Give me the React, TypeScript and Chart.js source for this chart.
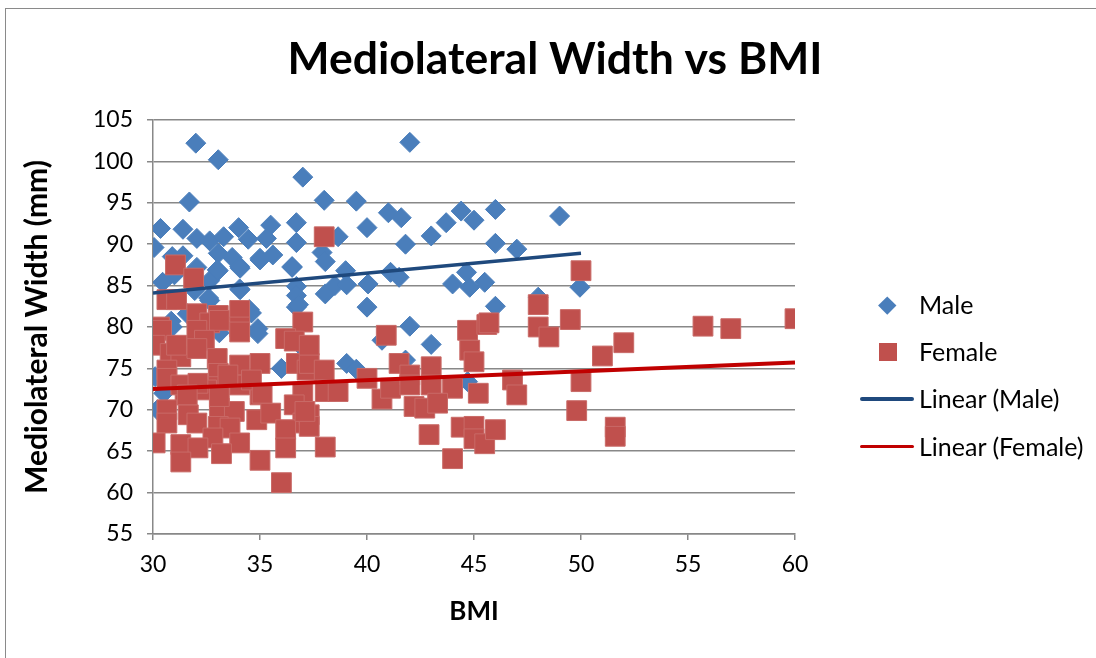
import React, { useEffect, useRef } from "react";
import { Chart, registerables } from "chart.js";

Chart.register(...registerables);

const maleBMI = [
  32.0, 33.05, 37.0, 31.7, 38.0, 39.5, 30.35, 31.4, 34.0, 35.5, 36.7, 30.05, 32.05, 32.65, 33.3, 34.45,
  35.3, 36.7, 30.9, 31.4, 33.05, 33.7, 35.0, 35.6, 34.05, 32.05, 33.05, 36.5, 37.9, 38.05, 30.45, 31.0,
  32.65, 34.05, 31.95, 36.7, 36.7, 32.65, 30.85, 34.5, 36.7, 31.6, 34.9, 41.0, 41.6, 44.4, 45.0, 43.7,
  40.0, 38.65, 43.0, 41.8, 39.0, 41.1, 41.5, 38.05, 38.5, 39.05, 40.05, 44.0, 44.8, 44.65, 45.5, 40.0,
  42.0, 43.0, 40.7, 39.05, 39.5, 44.7, 46.0, 49.0, 46.0, 47.0, 49.95, 46.0, 48.0, 42.0, 34.9, 36.0,
  30.9, 30.5, 30.2, 36.8, 41.8, 33.0, 34.07, 35.0, 36.5, 36.8, 32.6, 34.07, 34.6, 33.1, 30.1,
];
const maleWidth = [
  102.2, 100.2, 98.1, 95.1, 95.3, 95.2, 91.9, 91.8, 92.0, 92.3, 92.6, 89.6, 90.7, 90.4, 90.9, 90.6,
  90.7, 90.2, 88.5, 88.6, 88.9, 88.4, 88.3, 88.7, 87.3, 87.2, 86.8, 87.2, 89.0, 87.9, 85.4, 86.3,
  85.6, 84.6, 84.4, 84.9, 83.8, 83.2, 80.7, 82.1, 82.4, 81.6, 79.8, 93.8, 93.2, 94.0, 92.9, 92.6,
  92.0, 90.9, 91.0, 90.0, 86.8, 86.6, 86.0, 84.0, 85.0, 85.1, 85.2, 85.2, 84.8, 86.6, 85.4, 82.4,
  80.1, 77.9, 78.4, 75.6, 74.9, 73.4, 94.2, 93.4, 90.1, 89.4, 84.8, 82.5, 83.6, 102.3, 79.2, 75.0,
  80.0, 72.0, 70.0, 78.0, 76.0, 86.9, 87.1, 88.1, 87.3, 82.7, 83.5, 84.5, 81.7, 79.3, 74.0,
];

const femaleBMI = [
  31.05, 31.9, 30.65, 31.1, 32.05, 33.05, 34.05, 37.0, 30.3, 32.65, 34.05, 38.0, 30.4, 30.1, 32.05, 33.1,
  34.05, 36.2, 36.6, 32.4, 30.8, 31.3, 32.05, 33.0, 34.05, 35.0, 30.65, 30.65, 33.05, 36.7, 37.2, 34.05,
  33.05, 32.5, 31.5, 35.0, 37.0, 30.65, 31.65, 33.1, 33.8, 34.85, 35.5, 36.6, 37.0, 30.65, 32.05, 33.05,
  33.6, 32.8, 30.1, 31.3, 32.1, 34.05, 36.2, 36.2, 31.3, 33.2, 35.0, 36.0, 40.9, 44.7, 44.8, 45.0,
  45.6, 37.3, 38.0, 38.05, 38.65, 40.0, 40.7, 41.1, 41.5, 42.0, 42.0, 43.0, 43.0, 44.0, 45.2, 42.2,
  42.7, 43.3, 37.3, 37.3, 38.05, 42.9, 44.4, 45.0, 45.0, 45.5, 44.0, 50.0, 48.0, 49.5, 45.7, 48.0,
  48.5, 51.0, 52.0, 46.8, 47.0, 50.0, 49.8, 46.0, 51.6, 51.6, 55.7, 57.0, 60.0, 31.3, 32.1, 33.5,
  34.6, 31.1, 37.3, 31.6, 33.1, 35.1, 37.1,
];
const femaleWidth = [
  87.5, 85.9, 83.3, 83.3, 81.6, 81.4, 82.0, 80.6, 80.0, 80.5, 80.0, 90.9, 79.6, 77.8, 79.6, 80.8,
  79.4, 78.6, 78.3, 78.4, 76.8, 76.4, 77.4, 76.2, 75.4, 75.6, 74.8, 73.8, 74.4, 75.6, 74.8, 73.0,
  72.8, 72.4, 71.8, 71.8, 72.0, 70.0, 69.4, 70.2, 69.8, 68.8, 69.6, 70.6, 68.4, 68.4, 68.4, 68.0,
  67.8, 66.6, 66.0, 65.8, 65.4, 66.0, 67.6, 65.4, 63.7, 64.7, 63.9, 61.2, 79.0, 79.6, 77.2, 75.8,
  80.3, 75.6, 74.8, 72.2, 72.2, 73.8, 71.3, 72.6, 75.6, 74.2, 73.0, 75.2, 73.0, 72.6, 72.0, 70.4,
  70.2, 70.8, 69.4, 68.0, 65.5, 67.0, 67.9, 68.0, 66.5, 65.9, 64.1, 86.8, 82.7, 80.9, 80.5, 80.0,
  78.8, 76.5, 78.1, 73.6, 71.8, 73.4, 69.9, 67.6, 67.9, 66.8, 80.1, 79.8, 81.0, 73.0, 73.2, 74.2,
  73.6, 77.8, 77.8, 71.8, 71.6, 72.0, 69.8,
];

const maleTrendBMI = [30, 50];
const maleTrendWidth = [84.1, 88.9];
const femaleTrendBMI = [30, 60];
const femaleTrendWidth = [72.5, 75.7];

const xMin = 30;
const xMax = 60;
const xStep = 5;
const yMin = 55;
const yMax = 105;
const yStep = 5;

const titleText = "Mediolateral Width vs BMI";
const xTitle = "BMI";
const yTitle = "Mediolateral Width (mm)";
const legendLabels = ["Male", "Female", "Linear (Male)", "Linear (Female)"];

const MALE = "#4A7EBB";
const FEMALE = "#C0504D";
const MALE_LINE = "#1F497D";
const FEMALE_LINE = "#C00000";
const GRID = "#888888";
const FONT = "Lato";

const toPts = (xs: number[], ys: number[]) => xs.map((x, i) => ({ x, y: ys[i] }));

export default function App() {
  const ref = useRef<HTMLCanvasElement | null>(null);

  useEffect(() => {
    if (!ref.current) return;
    const chart = new Chart(ref.current, {
      type: "scatter",
      data: {
        datasets: [
          {
            label: legendLabels[2],
            type: "line",
            data: toPts(maleTrendBMI, maleTrendWidth),
            borderColor: MALE_LINE,
            borderWidth: 3.5,
            pointRadius: 0,
            showLine: true,
            fill: false,
            order: 0,
          },
          {
            label: legendLabels[3],
            type: "line",
            data: toPts(femaleTrendBMI, femaleTrendWidth),
            borderColor: FEMALE_LINE,
            borderWidth: 4,
            pointRadius: 0,
            showLine: true,
            fill: false,
            order: 1,
          },
          {
            label: legendLabels[1],
            data: toPts(femaleBMI, femaleWidth),
            pointStyle: "rect",
            pointRadius: 14,
            backgroundColor: FEMALE,
            borderColor: "#C96A67",
            borderWidth: 1,
            order: 2,
          },
          {
            label: legendLabels[0],
            data: toPts(maleBMI, maleWidth),
            pointStyle: "rectRot",
            pointRadius: 10,
            backgroundColor: MALE,
            borderColor: MALE,
            borderWidth: 1,
            order: 3,
          },
        ],
      },
      options: {
        animation: false,
        responsive: false,
        layout: { padding: { left: 14, top: 8, right: 0, bottom: 0 } },
        plugins: {
          legend: { display: false },
          tooltip: { enabled: false },
          title: {
            display: true,
            text: titleText,
            color: "#000",
            font: { family: FONT, size: 44.5, weight: "bold", lineHeight: 1.2 },
            padding: { top: 25.3, bottom: 33.3 },
          },
        },
        scales: {
          x: {
            type: "linear",
            min: xMin,
            max: xMax,
            ticks: {
              stepSize: xStep,
              color: "#000",
              font: { family: FONT, size: 23 },
              padding: 11,
              maxRotation: 0,
            },
            grid: {
              drawOnChartArea: false,
              drawTicks: true,
              tickLength: 6,
              color: GRID,
              lineWidth: 1.5,
            },
            border: { display: true, color: GRID, width: 1.5 },
            title: {
              display: true,
              text: xTitle,
              color: "#000",
              font: { family: FONT, size: 26, weight: "bold", lineHeight: 1.2 },
              padding: { top: 0, bottom: 30.4 },
            },
            afterFit: (s: any) => {
              s.height = 124;
            },
          },
          y: {
            type: "linear",
            min: yMin,
            max: yMax,
            ticks: {
              stepSize: yStep,
              color: "#000",
              font: { family: FONT, size: 23 },
              padding: 14,
            },
            grid: {
              drawOnChartArea: true,
              drawTicks: true,
              tickLength: 6,
              color: GRID,
              lineWidth: 1.5,
            },
            border: { display: true, color: GRID, width: 1.5 },
            title: {
              display: true,
              text: yTitle,
              color: "#000",
              font: { family: FONT, size: 30, weight: "bold", lineHeight: 1.2 },
              padding: { top: 5.5, bottom: 0 },
            },
            afterFit: (s: any) => {
              s.width = 139;
            },
          },
          legendSpace: {
            type: "linear",
            position: "right",
            display: true,
            ticks: { display: false },
            grid: { display: false, drawTicks: false },
            border: { display: false },
            afterFit: (s: any) => {
              s.width = 301;
            },
          },
        },
      } as any,
    });
    return () => chart.destroy();
  }, []);

  const textStyle: React.CSSProperties = {
    position: "absolute",
    left: 919,
    fontFamily: FONT,
    fontSize: 25,
    lineHeight: "30px",
    color: "#000",
    whiteSpace: "nowrap",
  };
  const rows = [305, 352, 399, 446.5];

  return (
    <div
      style={{
        position: "absolute",
        left: 0,
        top: 0,
        width: 1096,
        height: 658,
        background: "#fff",
        overflow: "hidden",
      }}
    >
      <div
        style={{
          position: "absolute",
          left: 5,
          top: 8,
          width: 1200,
          height: 800,
          border: "1.5px solid #8a8a8a",
          boxSizing: "border-box",
        }}
      />
      <canvas ref={ref} width={1096} height={658} style={{ position: "absolute", left: 0, top: 0 }} />
      <div
        style={{
          position: "absolute",
          left: 887 - 6.25,
          top: rows[0] - 6.25,
          width: 12.5,
          height: 12.5,
          background: MALE,
          transform: "rotate(45deg)",
        }}
      />
      <div
        style={{
          position: "absolute",
          left: 887.5 - 9,
          top: rows[1] - 9,
          width: 18,
          height: 18,
          background: FEMALE,
        }}
      />
      <div
        style={{
          position: "absolute",
          left: 860,
          top: rows[2] - 1.75,
          width: 54,
          height: 3.5,
          background: MALE_LINE,
          borderRadius: 2,
        }}
      />
      <div
        style={{
          position: "absolute",
          left: 860,
          top: rows[3] - 1.75,
          width: 54,
          height: 3.5,
          background: FEMALE_LINE,
          borderRadius: 2,
        }}
      />
      {legendLabels.map((t, i) => (
        <div key={t} style={{ ...textStyle, top: rows[i] - 15.7 }}>
          {t}
        </div>
      ))}
    </div>
  );
}
